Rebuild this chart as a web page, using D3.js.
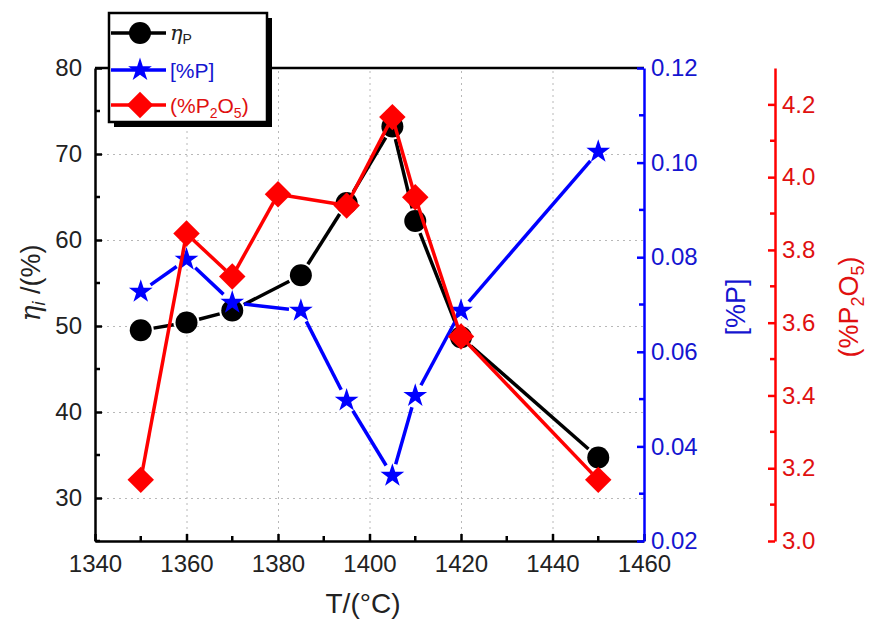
<!DOCTYPE html>
<html>
<head>
<meta charset="utf-8">
<script src="https://cdn.jsdelivr.net/npm/d3@7"></script>
<style>
  body { margin: 0; background: #fff; }
  svg { font-family: "Liberation Sans", Arial, sans-serif; }
  .grid line { stroke: #b8b8b8; stroke-width: 1; stroke-dasharray: 2,4; }
  .grid path { display: none; }
</style>
</head>
<body>
<svg id="chart" width="872" height="621"></svg>
<script>
// data
const tempEta = [1350, 1360, 1370, 1385, 1395, 1405, 1410, 1420, 1450];
const etaP = [49.5, 50.4, 51.8, 55.9, 64.3, 73.2, 62.2, 48.7, 34.7];

const tempP = [1350, 1360, 1370, 1385, 1395, 1405, 1410, 1420, 1450];
const pctP = [0.0727, 0.0795, 0.0704, 0.0687, 0.0497, 0.0338, 0.0507, 0.0687, 0.1023];

const tempP2O5 = [1350, 1360, 1370, 1380, 1395, 1405, 1410, 1420, 1450];
const pctP2O5 = [3.168, 3.845, 3.727, 3.953, 3.922, 4.165, 3.945, 3.562, 3.168];

const xTicks = [1340, 1360, 1380, 1400, 1420, 1440, 1460];
const yTicks = [30, 40, 50, 60, 70, 80];
const pTicks = [0.02, 0.04, 0.06, 0.08, 0.10, 0.12];
const p2o5Ticks = [3.0, 3.2, 3.4, 3.6, 3.8, 4.0, 4.2];

const BLACK = '#000000';
const BLUE = '#0000ff';
const BLUE_TXT = '#1515d0';
const RED = '#ff0000';
const RED_TXT = '#e01010';

// plot frame
const frame = { left: 95, right: 644, top: 68, bottom: 541 };
const redAxisX = 775;

const svg = d3.select('#chart');

const x = d3.scaleLinear().domain([1340, 1460]).range([frame.left, frame.right]);
const y = d3.scaleLinear().domain([25, 80]).range([frame.bottom, frame.top]);
const yP = d3.scaleLinear().domain([0.02, 0.12]).range([frame.bottom, frame.top]);
const yR = d3.scaleLinear().domain([3.0, 4.3]).range([frame.bottom, frame.top]);

// grid
svg.append('g')
  .attr('class', 'grid')
  .attr('transform', `translate(0,${frame.bottom})`)
  .call(d3.axisBottom(x).tickValues(xTicks.slice(1, -1))
    .tickSize(-(frame.bottom - frame.top)).tickFormat(''));
svg.append('g')
  .attr('class', 'grid')
  .attr('transform', `translate(${frame.left},0)`)
  .call(d3.axisLeft(y).tickValues(yTicks.slice(0, -1))
    .tickSize(-(frame.right - frame.left)).tickFormat(''));

// top frame line
svg.append('line')
  .attr('x1', frame.left).attr('x2', frame.right)
  .attr('y1', frame.top).attr('y2', frame.top)
  .attr('stroke', BLACK).attr('stroke-width', 2.5);

// axis helper
function styleAxis(g, color, fontSize) {
  g.select('.domain').attr('stroke', color).attr('stroke-width', 2.5);
  g.selectAll('.tick line').attr('stroke', color).attr('stroke-width', 2.5);
  g.selectAll('.tick text')
    .attr('fill', color === BLACK ? '#222' : color)
    .style('font-size', fontSize + 'px');
}

function minorTicks(ticks) {
  const out = [];
  for (let i = 0; i < ticks.length - 1; i++) out.push((ticks[i] + ticks[i + 1]) / 2);
  return out;
}

// x axis
const gx = svg.append('g').attr('transform', `translate(0,${frame.bottom})`);
gx.call(d3.axisBottom(x).tickValues(xTicks).tickSizeInner(-7).tickSizeOuter(0)
  .tickPadding(14).tickFormat(d3.format('d')));
styleAxis(gx, BLACK, 24);
gx.append('g').selectAll('line')
  .data(minorTicks(xTicks))
  .join('line')
  .attr('x1', (d) => x(d)).attr('x2', (d) => x(d))
  .attr('y1', 0).attr('y2', -5)
  .attr('stroke', BLACK).attr('stroke-width', 2.5);

// left axis
const gy = svg.append('g').attr('transform', `translate(${frame.left},0)`);
gy.call(d3.axisLeft(y).tickValues(yTicks).tickSizeInner(-7).tickSizeOuter(0)
  .tickPadding(13));
styleAxis(gy, BLACK, 24);
gy.append('g').selectAll('line')
  .data([25].concat(minorTicks(yTicks)))
  .join('line')
  .attr('x1', 0).attr('x2', 5)
  .attr('y1', (d) => y(d)).attr('y2', (d) => y(d))
  .attr('stroke', BLACK).attr('stroke-width', 2.5);

// blue right axis
const gp = svg.append('g').attr('transform', `translate(${frame.right},0)`);
gp.call(d3.axisRight(yP).tickValues(pTicks).tickSizeInner(-7).tickSizeOuter(0)
  .tickPadding(7).tickFormat(d3.format('.2f')));
styleAxis(gp, BLUE, 24);
gp.selectAll('.tick text').attr('fill', BLUE_TXT);
gp.append('g').selectAll('line')
  .data(minorTicks(pTicks))
  .join('line')
  .attr('x1', 0).attr('x2', -5)
  .attr('y1', (d) => yP(d)).attr('y2', (d) => yP(d))
  .attr('stroke', BLUE).attr('stroke-width', 2.5);

// red right axis
const gr = svg.append('g').attr('transform', `translate(${redAxisX},0)`);
gr.call(d3.axisRight(yR).tickValues(p2o5Ticks).tickSizeInner(-7).tickSizeOuter(0)
  .tickPadding(7).tickFormat(d3.format('.1f')));
styleAxis(gr, RED, 24);
gr.selectAll('.tick text').attr('fill', RED_TXT);
gr.append('g').selectAll('line')
  .data(minorTicks(p2o5Ticks))
  .join('line')
  .attr('x1', 0).attr('x2', -5)
  .attr('y1', (d) => yR(d)).attr('y2', (d) => yR(d))
  .attr('stroke', RED).attr('stroke-width', 2.5);

// axis titles
svg.append('text')
  .attr('x', 363).attr('y', 613)
  .attr('text-anchor', 'middle')
  .style('font-size', '28px').attr('fill', '#222')
  .text('T/(°C)');

const yTitle = svg.append('text')
  .attr('transform', 'translate(40,283) rotate(-90)')
  .attr('text-anchor', 'middle')
  .style('font-size', '27px').attr('fill', '#222');
yTitle.append('tspan').style('font-style', 'italic').style('font-family', '"DejaVu Serif", serif').text('η');
yTitle.append('tspan').style('font-style', 'italic').style('font-size', '18px').attr('dy', 5).text('i');
yTitle.append('tspan').attr('dy', -5).text(' /(%)');

svg.append('text')
  .attr('transform', 'translate(745,307) rotate(-90)')
  .attr('text-anchor', 'middle')
  .style('font-size', '27px').attr('fill', BLUE_TXT)
  .text('[%P]');

const rTitle = svg.append('text')
  .attr('transform', 'translate(858,307) rotate(-90)')
  .attr('text-anchor', 'middle')
  .style('font-size', '27px').attr('fill', RED_TXT);
rTitle.append('tspan').text('(%P');
rTitle.append('tspan').style('font-size', '18px').attr('dy', 6).text('2');
rTitle.append('tspan').attr('dy', -6).text('O');
rTitle.append('tspan').style('font-size', '18px').attr('dy', 6).text('5');
rTitle.append('tspan').attr('dy', -6).text(')');

// series
const series = [
  { xs: tempEta, ys: etaP, scale: y, color: BLACK, marker: 'circle', gap: 13 },
  { xs: tempP, ys: pctP, scale: yP, color: BLUE, marker: 'star', gap: 12 },
  { xs: tempP2O5, ys: pctP2O5, scale: yR, color: RED, marker: 'diamond', gap: 9 },
];

function markerPath(kind) {
  if (kind === 'star') return d3.symbol().type(d3.symbolStar).size(175)();
  if (kind === 'diamond') return d3.symbol().type(d3.symbolSquare).size(350)();
  return d3.symbol().type(d3.symbolCircle).size(Math.PI * 11 * 11)();
}

series.forEach((s) => {
  const pts = s.xs.map((t, i) => [x(t), s.scale(s.ys[i])]);
  const segs = d3.pairs(pts).map(([a, b]) => {
    const dx = b[0] - a[0];
    const dy = b[1] - a[1];
    const len = Math.hypot(dx, dy);
    const g = Math.min(s.gap, len / 2 - 1);
    return [
      a[0] + (dx / len) * g, a[1] + (dy / len) * g,
      b[0] - (dx / len) * g, b[1] - (dy / len) * g,
    ];
  });
  const g = svg.append('g');
  g.selectAll('line')
    .data(segs)
    .join('line')
    .attr('x1', (d) => d[0]).attr('y1', (d) => d[1])
    .attr('x2', (d) => d[2]).attr('y2', (d) => d[3])
    .attr('stroke', s.color).attr('stroke-width', 3.5);
  g.selectAll('path')
    .data(pts)
    .join('path')
    .attr('d', markerPath(s.marker))
    .attr('transform', (d) => `translate(${d[0]},${d[1]})${s.marker === 'diamond' ? ' rotate(45)' : ''}`)
    .attr('fill', s.color);
});

// legend
const lg = svg.append('g');
lg.append('rect')
  .attr('x', 114).attr('y', 18).attr('width', 158).attr('height', 109)
  .attr('fill', BLACK);
lg.append('rect')
  .attr('x', 109).attr('y', 13).attr('width', 158).attr('height', 109)
  .attr('fill', '#fff').attr('stroke', BLACK).attr('stroke-width', 2.5);

const legendRows = [
  { color: BLACK, marker: 'circle', y: 33 },
  { color: BLUE, marker: 'star', y: 70 },
  { color: RED, marker: 'diamond', y: 105 },
];
legendRows.forEach((r) => {
  lg.append('line')
    .attr('x1', 111).attr('x2', 166).attr('y1', r.y).attr('y2', r.y)
    .attr('stroke', r.color).attr('stroke-width', 3.5);
  lg.append('path')
    .attr('d', markerPath(r.marker))
    .attr('transform', `translate(140,${r.y})${r.marker === 'diamond' ? ' rotate(45)' : ''}`)
    .attr('fill', r.color);
});

const t1 = lg.append('text').attr('x', 170).attr('y', 40).attr('fill', '#222').style('font-size', '21px');
t1.append('tspan').style('font-style', 'italic').style('font-family', '"DejaVu Serif", serif').text('η');
t1.append('tspan').style('font-size', '14px').attr('dy', 4).text('P');

lg.append('text').attr('x', 170).attr('y', 78).attr('fill', BLUE_TXT)
  .style('font-size', '21px').text('[%P]');

const t3 = lg.append('text').attr('x', 170).attr('y', 113).attr('fill', RED_TXT).style('font-size', '21px');
t3.append('tspan').text('(%P');
t3.append('tspan').style('font-size', '14px').attr('dy', 5).text('2');
t3.append('tspan').attr('dy', -5).text('O');
t3.append('tspan').style('font-size', '14px').attr('dy', 5).text('5');
t3.append('tspan').attr('dy', -5).text(')');
</script>
</body>
</html>
